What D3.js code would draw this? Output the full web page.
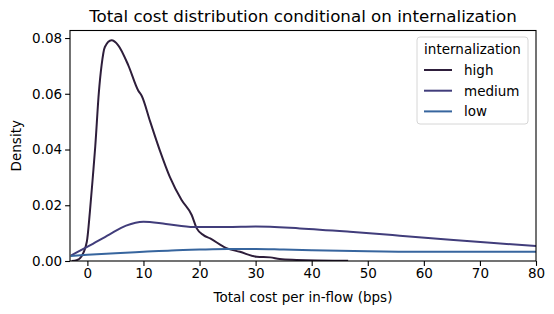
<!DOCTYPE html>
<html>
<head>
<meta charset="utf-8">
<script src="https://cdn.jsdelivr.net/npm/d3@7"></script>
<style>
  body { margin: 0; background: #fff; }
  text { font-family: "DejaVu Sans", sans-serif; fill: #000; }
</style>
</head>
<body>
<div id="main_div"></div>
<script>
// series: [x (bps), density]
const high = [[-2.8, 0], [-1.9, 0.0003], [-1.3, 0.001], [-0.1, 0.0069], [0.45, 0.0177], [1.0, 0.0309],
  [1.4, 0.041], [2.05, 0.0606], [2.53, 0.0702], [3.12, 0.0768], [4.3, 0.0792], [5.5, 0.0774],
  [7.3, 0.0702], [9.06, 0.0612], [9.7, 0.0592], [11.2, 0.05], [12.9, 0.0398], [14.7, 0.0302],
  [16.8, 0.0219], [18.6, 0.0165], [19.5, 0.0117], [20.7, 0.0093], [21.9, 0.0081], [24.8, 0.0046],
  [27.2, 0.0033], [30.2, 0.0015], [32.6, 0.0013], [34.3, 0.0007], [37.3, 0.0004], [41, 0.0002],
  [46.5, 0.0001]];
const medium = [[-2.9, 0.002], [0.2, 0.0053], [3.9, 0.0095], [6.9, 0.0127], [10.0, 0.0141],
  [14.0, 0.0133], [19.0, 0.0122], [24.8, 0.0122], [30.0, 0.0124], [37.9, 0.0117],
  [46.8, 0.0105], [55.7, 0.0091], [64.7, 0.0076], [73.6, 0.0063], [80, 0.0054]];
const low = [[-3, 0.0018], [0, 0.0022], [5, 0.0028], [10, 0.0033], [15, 0.0038], [20, 0.0041],
  [25, 0.0043], [30, 0.0043], [35, 0.0041], [40, 0.0039], [45, 0.0037], [50, 0.0035],
  [60, 0.0033], [70, 0.0033], [80, 0.0033]];

const groups = ["high", "medium", "low"];
const colors = ["#2e1e3b", "#413d7b", "#37659e"];
const xTicks = [0, 10, 20, 30, 40, 50, 60, 70, 80];
const yTicks = [0, 0.02, 0.04, 0.06, 0.08];

const W = 554, H = 314;
const mLeft = 70, mRight = 536, mTop = 30.5, mBottom = 261;

const svg = d3.select("#main_div").append("svg")
    .attr("width", W).attr("height", H);

const xScale = d3.scaleLinear().domain([-3.1, 80]).range([mLeft, mRight]);
const yScale = d3.scaleLinear().domain([0, 0.0827]).range([mBottom, mTop]);

const line = d3.line()
    .x(d => xScale(d[0]))
    .y(d => yScale(d[1]))
    .curve(d3.curveMonotoneX);

svg.append("defs").append("clipPath").attr("id", "clip")
    .append("rect").attr("x", mLeft).attr("y", mTop)
    .attr("width", mRight - mLeft).attr("height", mBottom - mTop);

const plot = svg.append("g").attr("clip-path", "url(#clip)");
[high, medium, low].forEach((s, i) => {
    plot.append("path")
        .datum(s)
        .attr("fill", "none")
        .attr("stroke", colors[i])
        .attr("stroke-width", 2)
        .attr("stroke-linejoin", "round")
        .attr("d", line);
});

const fs = 13.5;

const xAxis = svg.append("g")
    .attr("transform", `translate(0,${mBottom})`)
    .call(d3.axisBottom(xScale).tickValues(xTicks).tickSize(4.9).tickPadding(3).tickFormat(d3.format("d")));
const yAxis = svg.append("g")
    .attr("transform", `translate(${mLeft},0)`)
    .call(d3.axisLeft(yScale).tickValues(yTicks).tickSize(4.9).tickPadding(3).tickFormat(d3.format(".2f")));

[xAxis, yAxis].forEach(a => {
    a.select(".domain").remove();
    a.selectAll("line").attr("stroke", "#000").attr("stroke-width", 1.1);
    a.selectAll("text").attr("font-size", fs).attr("font-family", "DejaVu Sans");
});

// frame
svg.append("rect")
    .attr("x", mLeft).attr("y", mTop)
    .attr("width", mRight - mLeft).attr("height", mBottom - mTop)
    .attr("fill", "none").attr("stroke", "#000").attr("stroke-width", 1.1);

svg.append("text")
    .attr("x", (mLeft + mRight) / 2).attr("y", 22)
    .attr("text-anchor", "middle").attr("font-size", 16.7)
    .text("Total cost distribution conditional on internalization");

svg.append("text")
    .attr("x", (mLeft + mRight) / 2).attr("y", 302)
    .attr("text-anchor", "middle").attr("font-size", fs)
    .text("Total cost per in-flow (bps)");

svg.append("text")
    .attr("transform", `translate(21,${(mTop + mBottom) / 2}) rotate(-90)`)
    .attr("text-anchor", "middle").attr("font-size", fs)
    .text("Density");

// legend
const lg = svg.append("g").attr("transform", "translate(417,37)");
lg.append("rect")
    .attr("width", 111).attr("height", 87).attr("rx", 3)
    .attr("fill", "#fff").attr("fill-opacity", 0.8)
    .attr("stroke", "#d6d6d6").attr("stroke-width", 1);
lg.append("text").attr("x", 55.5).attr("y", 16.5)
    .attr("text-anchor", "middle").attr("font-size", fs).text("internalization");
groups.forEach((g, i) => {
    const y = 33 + i * 20.7;
    lg.append("line").attr("x1", 7).attr("x2", 35).attr("y1", y).attr("y2", y)
        .attr("stroke", colors[i]).attr("stroke-width", 2);
    lg.append("text").attr("x", 47).attr("y", y + 5)
        .attr("font-size", fs).text(g);
});
</script>
</body>
</html>
